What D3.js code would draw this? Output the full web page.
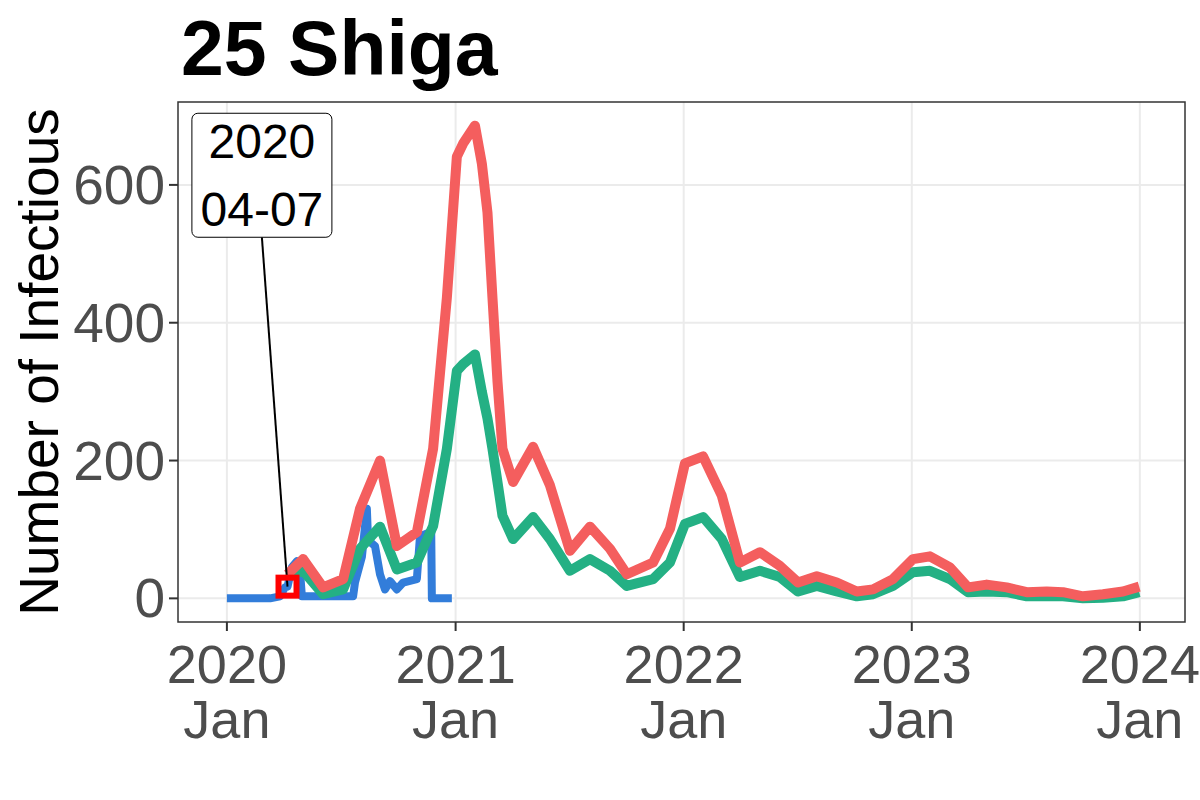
<!DOCTYPE html>
<html>
<head>
<meta charset="utf-8">
<script src="https://cdn.jsdelivr.net/npm/d3@7"></script>
<style>
  body { margin: 0; background: #fff; }
  svg text { font-family: "Liberation Sans", Arial, sans-serif; }
</style>
</head>
<body>
<svg id="chart" width="1200" height="800"></svg>
<script>
// full date range of the underlying data (x limits before expansion)
var dataRange = ["2019-12-27", "2023-12-31"];

// blue: reported series (daily steps)
var blueDates = ["2020-01-01","2020-03-10","2020-03-26","2020-04-03","2020-04-07","2020-04-14","2020-04-22","2020-04-27","2020-04-30",
  "2020-07-21","2020-07-24","2020-08-04","2020-08-12","2020-08-14","2020-08-17","2020-08-25","2020-09-02","2020-09-10","2020-09-18",
  "2020-09-29","2020-10-09","2020-10-31","2020-11-05","2020-11-21","2020-11-23","2020-11-24","2020-12-26"];
var blueValues = [0,0,3,16,17,45,54,40,3,
  3,23,60,130,82,82,76,35,13,25,
  13,23,28,90,96,96,0,0];

// red and green: estimated series
var estDates = ["2020-04-07","2020-05-02","2020-06-03","2020-07-05","2020-08-01","2020-09-02","2020-09-29","2020-10-31","2020-11-26","2020-12-18",
  "2021-01-03","2021-01-13","2021-02-01","2021-02-12","2021-02-21","2021-03-01","2021-03-09","2021-03-17","2021-04-03","2021-05-05",
  "2021-06-01","2021-07-03","2021-08-04","2021-09-05","2021-10-02","2021-11-13","2021-12-10","2022-01-03","2022-02-01","2022-03-03",
  "2022-04-01","2022-05-03","2022-06-04","2022-07-03","2022-08-02","2022-09-03","2022-10-05","2022-10-31","2022-12-02","2023-01-03",
  "2023-01-30","2023-03-03","2023-04-01","2023-05-01","2023-06-02","2023-07-04","2023-08-05","2023-08-31","2023-10-02","2023-11-03",
  "2023-12-05","2023-12-31"];
var redValues = [35,57,16,28,130,200,76,96,217,436,
  641,660,686,631,560,436,315,217,169,220,
  164,69,104,72,35,52,101,196,206,149,
  52,67,47,23,32,23,10,13,28,57,
  61,45,16,20,16,9,10,9,3,6,
  10,17];
var greenValues = [35,40,6,13,72,104,42,52,105,217,
  330,340,354,300,261,217,169,120,86,118,
  86,40,57,40,18,28,52,108,118,86,
  31,40,31,10,18,10,3,6,18,38,
  40,28,9,10,9,3,3,3,0,1,
  3,9];

var markDate = "2020-04-07", markValue = 17;
var labelDate = "2020-02-26", labelValue = 614;
var labelLines = ["2020", "04-07"];

var yTicks = [0, 200, 400, 600];
var xTickDates = ["2020-01-01","2021-01-01","2022-01-01","2023-01-01","2024-01-01"];

var parse = d3.utcParse("%Y-%m-%d");
var margin = { top: 102, right: 15, bottom: 178, left: 178 },
    width = 1200 - margin.left - margin.right,
    height = 800 - margin.top - margin.bottom;

var svg = d3.select("#chart");
var g = svg.append("g").attr("transform", "translate(" + margin.left + "," + margin.top + ")");

var blue = blueDates.map(function (d, i) { return { date: parse(d), value: blueValues[i] }; });
var red = estDates.map(function (d, i) { return { date: parse(d), value: redValues[i] }; });
var green = estDates.map(function (d, i) { return { date: parse(d), value: greenValues[i] }; });

// ggplot-style 5% expansion
var xExt = dataRange.map(parse), xPad = (xExt[1] - xExt[0]) * 0.05;
var x = d3.scaleUtc()
    .domain([new Date(+xExt[0] - xPad), new Date(+xExt[1] + xPad)])
    .range([0, width]);
var yMax = d3.max(redValues), yPad = yMax * 0.05;
var y = d3.scaleLinear().domain([-yPad, yMax + yPad]).range([height, 0]);

// grid
g.append("g").selectAll("line").data(yTicks).enter().append("line")
    .attr("x1", 0).attr("x2", width)
    .attr("y1", function (d) { return y(d); }).attr("y2", function (d) { return y(d); })
    .attr("stroke", "#EBEBEB").attr("stroke-width", 2);
g.append("g").selectAll("line").data(xTickDates).enter().append("line")
    .attr("y1", 0).attr("y2", height)
    .attr("x1", function (d) { return x(parse(d)); }).attr("x2", function (d) { return x(parse(d)); })
    .attr("stroke", "#EBEBEB").attr("stroke-width", 2);

var line = d3.line()
    .x(function (d) { return x(d.date); })
    .y(function (d) { return y(d.value); });

g.append("path").datum(blue)
    .attr("d", line).attr("fill", "none")
    .attr("stroke", "#327DDA").attr("stroke-width", 8).attr("stroke-linejoin", "round");
g.append("path").datum(green)
    .attr("d", line).attr("fill", "none")
    .attr("stroke", "#24B084").attr("stroke-width", 10).attr("stroke-linejoin", "round");
g.append("path").datum(red)
    .attr("d", line).attr("fill", "none")
    .attr("stroke", "#F45E5E").attr("stroke-width", 10).attr("stroke-linejoin", "round");

// annotation
var mx = x(parse(markDate)), my = y(markValue);
var lx = x(parse(labelDate)), ly = y(labelValue);
var lineGap = 68;
var boxW = 140, boxH = 124;
g.append("line")
    .attr("x1", lx).attr("y1", ly + boxH / 2)
    .attr("x2", mx).attr("y2", my)
    .attr("stroke", "#000").attr("stroke-width", 2);
g.append("rect")
    .attr("x", mx - 9).attr("y", my - 9).attr("width", 18).attr("height", 18)
    .attr("fill", "none").attr("stroke", "#FF0000").attr("stroke-width", 6);
g.append("rect")
    .attr("x", lx - boxW / 2).attr("y", ly - boxH / 2)
    .attr("width", boxW).attr("height", boxH)
    .attr("rx", 6).attr("ry", 6)
    .attr("fill", "#fff").attr("stroke", "#000").attr("stroke-width", 1);
g.selectAll(".lab").data(labelLines).enter().append("text")
    .attr("class", "lab")
    .attr("x", lx)
    .attr("y", function (d, i) { return ly - lineGap / 2 + i * lineGap + 17; })
    .attr("text-anchor", "middle")
    .attr("font-size", 48).attr("fill", "#000")
    .text(function (d) { return d; });

// panel border
g.append("rect").attr("width", width).attr("height", height)
    .attr("fill", "none").attr("stroke", "#333333").attr("stroke-width", 1.5);

// y axis
var ya = g.append("g");
ya.selectAll("line").data(yTicks).enter().append("line")
    .attr("x1", -9).attr("x2", 0)
    .attr("y1", function (d) { return y(d); }).attr("y2", function (d) { return y(d); })
    .attr("stroke", "#333333").attr("stroke-width", 2);
ya.selectAll("text").data(yTicks).enter().append("text")
    .attr("x", -13).attr("y", function (d) { return y(d) + 19; })
    .attr("text-anchor", "end").attr("font-size", 55).attr("fill", "#4D4D4D")
    .text(function (d) { return d; });

// x axis: year on one line, month below
var xa = g.append("g");
var fmtY = d3.utcFormat("%Y"), fmtM = d3.utcFormat("%b");
xa.selectAll("line").data(xTickDates).enter().append("line")
    .attr("x1", function (d) { return x(parse(d)); }).attr("x2", function (d) { return x(parse(d)); })
    .attr("y1", height).attr("y2", height + 9)
    .attr("stroke", "#333333").attr("stroke-width", 2);
xa.selectAll(".xy").data(xTickDates).enter().append("text")
    .attr("class", "xy")
    .attr("x", function (d) { return x(parse(d)); }).attr("y", height + 61)
    .attr("text-anchor", "middle").attr("font-size", 54).attr("fill", "#4D4D4D")
    .text(function (d) { return fmtY(parse(d)); });
xa.selectAll(".xm").data(xTickDates).enter().append("text")
    .attr("class", "xm")
    .attr("x", function (d) { return x(parse(d)); }).attr("y", height + 116)
    .attr("text-anchor", "middle").attr("font-size", 54).attr("fill", "#4D4D4D")
    .text(function (d) { return fmtM(parse(d)); });

// y title
svg.append("text")
    .attr("transform", "translate(58," + (margin.top + height / 2) + ") rotate(-90)")
    .attr("text-anchor", "middle").attr("font-size", 55).attr("fill", "#000")
    .text("Number of Infectious");

// title
svg.append("text")
    .attr("x", 181).attr("y", 75)
    .attr("font-size", 77).attr("font-weight", "bold").attr("fill", "#000")
    .text("25 Shiga");
</script>
</body>
</html>
